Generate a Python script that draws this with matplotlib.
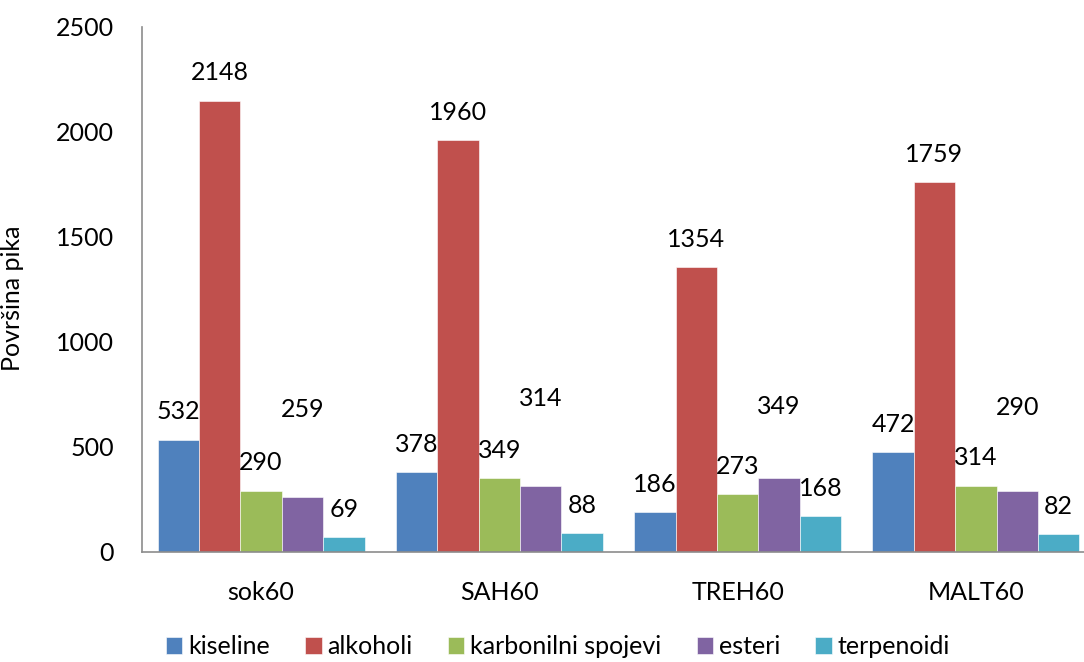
import numpy as np
import matplotlib.pyplot as plt

# Data
categories = ["sok60", "SAH60", "TREH60", "MALT60"]
series = ["kiseline", "alkoholi", "karbonilni spojevi", "esteri", "terpenoidi"]
kiseline = [532, 378, 186, 472]
alkoholi = [2148, 1960, 1354, 1759]
karbonilni = [290, 349, 273, 314]
esteri = [259, 314, 349, 290]
terpenoidi = [69, 88, 168, 82]
values = [kiseline, alkoholi, karbonilni, esteri, terpenoidi]

colors = ["#4F81BD", "#C0504D", "#9BBB59", "#8064A2", "#4BACC6"]

# extra lift (px) of the esteri labels, as placed in the original
esteri_lift = [60, 59, 44, 55]

plt.rcParams['font.family'] = ['Lato', 'DejaVu Sans']

fig = plt.figure(figsize=(10.84, 6.62), dpi=100)
ax = fig.add_axes([142 / 1084, 1 - 551.5 / 662, 953 / 1084, 524.5 / 662])

x = np.arange(len(categories))
w = 0.1736
for i, (name, vals) in enumerate(zip(series, values)):
    pos = x + (i - 2) * w
    ax.bar(pos, vals, width=w, color=colors[i], label=name,
           edgecolor='white', linewidth=0.4)
    for j, (p, v) in enumerate(zip(pos, vals)):
        lift = 28
        if name == "esteri":
            lift += esteri_lift[j]
        ax.annotate(str(v), (p, v), xytext=(0, lift * 0.72), textcoords='offset points',
                    ha='center', va='center', fontsize=18, color='black')

ax.set_xlim(-0.5, len(categories) - 0.5)
ax.set_ylim(0, 2500)
ax.set_yticks(range(0, 2501, 500))
ax.set_xticks(x)
ax.set_xticklabels(categories)
ax.tick_params(axis='y', length=0, pad=20, labelsize=18)
ax.tick_params(axis='x', length=0, pad=21, labelsize=18)

for s in ['top', 'right']:
    ax.spines[s].set_visible(False)
for s in ['left', 'bottom']:
    ax.spines[s].set_color('#8C8C8C')
    ax.spines[s].set_linewidth(1.2)

ax.set_ylabel("Površina pika", fontsize=18)
ax.yaxis.set_label_coords(-118 / 953, 0.483)

fig.legend(loc='center', bbox_to_anchor=(558 / 1084, 1 - 647 / 662), ncol=5,
           frameon=False, fontsize=18, handlelength=0.65, handleheight=0.65,
           handletextpad=0.25, columnspacing=1.4)

fig.savefig("out.png", dpi=100)
